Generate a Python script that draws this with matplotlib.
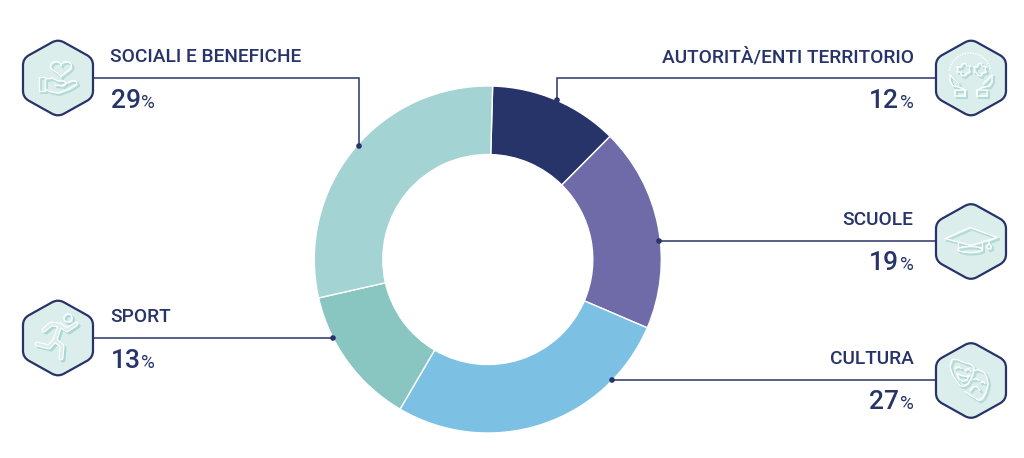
import numpy as np
import matplotlib
matplotlib.use("Agg")
import matplotlib.pyplot as plt
from matplotlib.path import Path
from matplotlib.patches import PathPatch, Circle

categories = ["AUTORITÀ/ENTI TERRITORIO", "SCUOLE", "CULTURA", "SPORT", "SOCIALI E BENEFICHE"]
values = [12, 19, 27, 13, 29]
colors = ["#27346A", "#6F6BA8", "#7CC1E4", "#89C6C2", "#A3D3D2"]
sides = ["right", "right", "right", "left", "left"]
icons = ["hands", "cap", "masks", "runner", "heart"]
NAVY = "#27346A"
HEXFILL = "#DCEEEC"
W, H = 1024, 458
plt.rcParams["font.family"] = ["Roboto", "DejaVu Sans"]

fig = plt.figure(figsize=(W / 100, H / 100), dpi=100, facecolor="white")

# donut
cx, cy, R = 487.8, 259.5, 173.5
pie_ax = fig.add_axes([(cx - R) / W, 1 - (cy + R) / H, 2 * R / W, 2 * R / H])
pie_ax.pie(values, colors=colors, startangle=90 - 1.6, counterclock=False, radius=1,
           wedgeprops=dict(width=68.5 / R, edgecolor="white", linewidth=1))
pie_ax.set_xlim(-1, 1); pie_ax.set_ylim(-1, 1); pie_ax.axis("off")

# overlay in pixel coordinates
ax = fig.add_axes([0, 0, 1, 1])
ax.set_xlim(0, W); ax.set_ylim(H, 0); ax.axis("off"); ax.patch.set_alpha(0)

layout = {
    "AUTORITÀ/ENTI TERRITORIO": dict(hy=78, ty=62, ny=108, line=[(936, 78), (557, 78), (557, 100)]),
    "SCUOLE": dict(hy=241.5, ty=225, ny=270, line=[(936, 241), (659, 241)]),
    "CULTURA": dict(hy=380.5, ty=364, ny=409, line=[(936, 380), (612, 380)]),
    "SPORT": dict(hy=338, ty=322, ny=368, line=[(93, 338), (333, 338)]),
    "SOCIALI E BENEFICHE": dict(hy=78, ty=62, ny=108, line=[(93, 78), (359, 78), (359, 146)]),
}


def hexagon(hx, hy):
    w, h = 35, 39
    pts = [(hx, hy - h), (hx + w, hy - h / 2), (hx + w, hy + h / 2),
           (hx, hy + h), (hx - w, hy + h / 2), (hx - w, hy - h / 2)]
    verts, codes = [], []
    t = 0.17
    for i, p in enumerate(pts):
        a = np.array(pts[i - 1]); b = np.array(p); c = np.array(pts[(i + 1) % 6])
        s = b + (a - b) * t; e = b + (c - b) * t
        verts += [tuple(s), tuple(b), tuple(e)]
        codes += [Path.MOVETO if i == 0 else Path.LINETO, Path.CURVE3, Path.CURVE3]
    verts.append(verts[0]); codes.append(Path.CLOSEPOLY)
    ax.add_patch(PathPatch(Path(verts, codes), fc=HEXFILL, ec=NAVY, lw=1.6, zorder=3))


def line(hx, hy, xs, ys, color, lw, z, off=0, ls="-"):
    xs = np.asarray(xs, float) + hx + off
    ys = np.asarray(ys, float) + hy + off
    ax.plot(xs, ys, color=color, lw=lw, zorder=z, ls=ls,
            solid_capstyle="round", solid_joinstyle="round")


def heart_shape(x0, y0, sx, sy):
    t = np.linspace(0, 2 * np.pi, 70)
    return (x0 + sx * np.sin(t) ** 3,
            y0 - sy * (13 * np.cos(t) - 5 * np.cos(2 * t) - 2 * np.cos(3 * t) - np.cos(4 * t)) / 16)


def arc(x0, y0, rx, ry, a0=0, a1=360):
    t = np.radians(np.linspace(a0, a1, 50))
    return x0 + rx * np.cos(t), y0 + ry * np.sin(t)


def icon_shapes(name):
    if name == "heart":
        return [
            heart_shape(3, -10, 10.5, 8.5),
            ([-19, -13, -13, -19, -19], [-1, -1, 13, 13, -1]),
            ([-13, -6, 0, 6, 8, 5, -3], [1, 0, 3, 3, 5, 8, 7]),
            ([5, 13, 18, 19, 11, 0, -7, -13], [7, 3, 3, 6, 11, 15, 14, 11]),
        ]
    if name == "hands":
        return [
            ([-14, -10, -9, -6, -4, -1, -2, -1, -4, -7, -10, -10, -14, -13, -14],
             [-11, -11, -14, -15, -12, -12, -9, -6, -5, -2, -3, -6, -6, -9, -11]),
            ([3, 6, 7, 10, 11, 15, 14, 15, 11, 10, 7, 5, 3, 4, 3],
             [-11, -11, -14, -15, -12, -11, -9, -6, -5, -2, -3, -6, -6, -9, -11]),
            ([-21, -21, -18, -12, -6, -6, -16, -16, -6, -6], [-3, 3, 8, 9, 12, 18, 18, 12, 12, 18]),
            ([21, 21, 18, 12, 6, 6, 16, 16, 6, 6], [-3, 3, 8, 9, 12, 18, 18, 12, 12, 18]),
            ([-21, -17, -12], [-3, 1, 6]),
            ([21, 17, 12], [-3, 1, 6]),
        ]
    if name == "cap":
        return [
            ([-26, -1, 26, 0, -26], [-3, -14, -4, 4, -3]),
            ([-13, -13], [1, 8]),
            ([11, 11], [0, 8]),
            arc(-1, 8, 12, 3),
            ([26, 18, 18], [-4, -1, 3]),
            arc(18, 5, 2, 2.5),
        ]
    if name == "masks":
        return [
            ([-19, -14, -7, 0, 3, 2, 0, -3, -8, -11, -14, -18, -20, -21, -19],
             [-21, -21, -18, -16, -13, -7, -2, 3, 6, 5, 1, -5, -10, -15, -21]),
            ([3, 7, 13, 16, 17, 15, 12, 8, 3, -2, -6],
             [-10, -11, -8, -3, 3, 11, 17, 20, 17, 14, 11]),
            ([-16, -13, -10], [-12, -14, -12]),
            ([-6, -3, 0], [-10, -12, -9]),
            ([-14, -10, -5, -2, -4, -8, -12, -14], [-7, -5, -4, -5, -1, 1, -2, -7]),
            ([2, 5, 8], [-1, -2, 0]),
            ([9, 12, 14], [2, 1, 3]),
            ([-1, 2, 6, 9], [10, 6, 6, 10]),
        ]
    return []


def draw_icon(name, hx, hy):
    if name == "runner":
        limbs = [
            ([-14, -7, 2, 9, 18], [-8, -14, -13, -8, -14]),
            ([2, -3], [-13, 2]),
            ([-3, -9, -21], [2, 9, 6]),
            ([-3, 4, 3], [2, 8, 20]),
        ]
        for xs, ys in limbs:
            line(hx, hy, xs, ys, "#A9D8D4", 3.6, 4, off=2)
        for xs, ys in limbs:
            line(hx, hy, xs, ys, "white", 3.6, 5)
        for xs, ys in limbs:
            line(hx, hy, xs, ys, HEXFILL, 1.9, 6)
        hxs, hys = arc(10, -20, 4, 4)
        line(hx, hy, hxs, hys, "#A9D8D4", 1.5, 4, off=2)
        line(hx, hy, hxs, hys, "white", 1.0, 6)
        return
    shapes = icon_shapes(name)
    for xs, ys in shapes:
        line(hx, hy, xs, ys, "#B0DBD7", 1.5, 4, off=2)
    for xs, ys in shapes:
        line(hx, hy, xs, ys, "white", 0.95, 5)
    if name == "hands":
        xs, ys = arc(-1, -4, 21, 21, 190, 350)
        line(hx, hy, xs, ys, "white", 1.2, 5, ls=(0, (0.8, 0.8)))


def baseline_text(x, y, s, **kw):
    return ax.text(x, y, s, color=NAVY, va="baseline", zorder=7, **kw)


fig.canvas.draw()
renderer = fig.canvas.get_renderer()

for cat, val, side, icon in zip(categories, values, sides, icons):
    cfg = layout[cat]
    pts = cfg["line"]
    ax.plot([p[0] for p in pts], [p[1] for p in pts], color=NAVY, lw=1.1, zorder=2,
            solid_joinstyle="miter")
    ax.add_patch(Circle(pts[-1], 2.8, fc=NAVY, ec="none", zorder=6))
    hx = 58 if side == "left" else 971
    hexagon(hx, cfg["hy"])
    draw_icon(icon, hx, cfg["hy"])
    ty, ny = cfg["ty"], cfg["ny"]
    if side == "left":
        baseline_text(110.5, ty, cat, fontsize=13.8, fontweight="medium", ha="left")
        num = baseline_text(110.5, ny, str(val), fontsize=19, fontweight="medium", ha="left")
        ext = num.get_window_extent(renderer)
        baseline_text(ext.x1 + 0.5, ny, "%", fontsize=13.5, fontweight="normal", ha="left")
    else:
        baseline_text(913.5, ty, cat, fontsize=13.8, fontweight="medium", ha="right")
        pct = baseline_text(913.5, ny, "%", fontsize=13.5, fontweight="normal", ha="right")
        ext = pct.get_window_extent(renderer)
        baseline_text(ext.x0 - 0.5, ny, str(val), fontsize=19, fontweight="medium", ha="right")

fig.savefig("out.png", dpi=100, facecolor="white")
